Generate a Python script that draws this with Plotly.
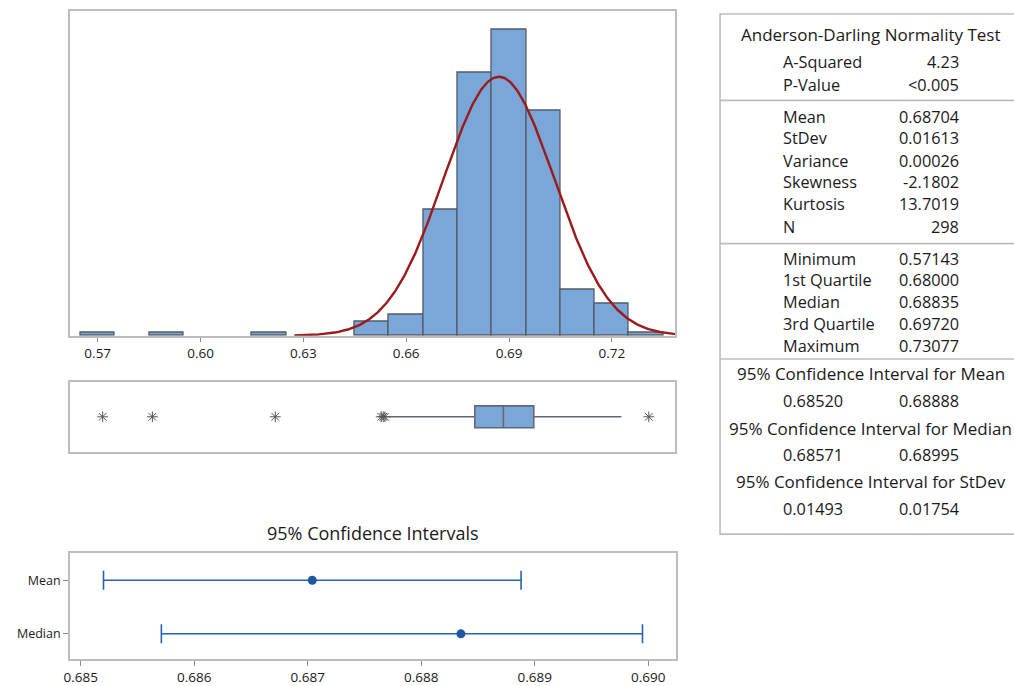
import numpy as np
import plotly.graph_objects as go

# ---------------- data ----------------
bin_centers = [0.57, 0.59, 0.62, 0.65, 0.66, 0.67, 0.68, 0.69, 0.70, 0.71, 0.72, 0.73]
bin_counts = [1, 1, 1, 4, 6, 36, 75, 87, 64, 13, 9, 1]
bin_width = 0.01

n_obs = 298
mean_val = 0.68704
stdev_val = 0.01613

q1_val = 0.68000
median_val = 0.68835
q3_val = 0.69720
whisker_low = 0.6548
whisker_high = 0.72275
outliers = [0.57143, 0.58594, 0.6218, 0.6527, 0.6533, 0.6538, 0.73077]

ci_labels = ["Median", "Mean"]
ci_centers = [0.68835, 0.68704]
ci_lower = [0.68571, 0.68520]
ci_upper = [0.68995, 0.68888]

hist_ticks = [0.57, 0.60, 0.63, 0.66, 0.69, 0.72]
ci_ticks = [0.685, 0.686, 0.687, 0.688, 0.689, 0.690]

ad_rows = [("A-Squared", "4.23"), ("P-Value", "<0.005")]
moment_rows = [("Mean", "0.68704"), ("StDev", "0.01613"), ("Variance", "0.00026"),
               ("Skewness", "-2.1802"), ("Kurtosis", "13.7019"), ("N", "298")]
quant_rows = [("Minimum", "0.57143"), ("1st Quartile", "0.68000"), ("Median", "0.68835"),
              ("3rd Quartile", "0.69720"), ("Maximum", "0.73077")]
ci_table = [("95% Confidence Interval for Mean", "0.68520", "0.68888"),
            ("95% Confidence Interval for Median", "0.68571", "0.68995"),
            ("95% Confidence Interval for StDev", "0.01493", "0.01754")]

# ---------------- styling ----------------
W, H = 1014, 686
FONT = "Open Sans"
TXT = "#1a1a1a"
FRAME = "#BDBDBD"
BAR_FILL = "#7BA6D8"
BAR_LINE = "#505B66"
CURVE = "#9C1A1A"
CI_BLUE = "#2463AE"


def px(x):
    return x / W


def py(y):
    return 1 - y / H


fig = go.Figure()

# histogram
fig.add_trace(go.Bar(x=bin_centers, y=bin_counts, width=bin_width,
                     marker=dict(color=BAR_FILL, line=dict(color=BAR_LINE, width=1.3)),
                     xaxis="x", yaxis="y", hoverinfo="skip"))

# fitted normal curve (from the mean and stdev above)
xc = np.linspace(mean_val - 3.7 * stdev_val, 0.7385, 400)
yc = n_obs * bin_width * np.exp(-0.5 * ((xc - mean_val) / stdev_val) ** 2) / (stdev_val * np.sqrt(2 * np.pi))
fig.add_trace(go.Scatter(x=xc, y=yc, mode="lines", line=dict(color=CURVE, width=2.4),
                         xaxis="x", yaxis="y", hoverinfo="skip"))

# boxplot
fig.add_trace(go.Box(q1=[q1_val], median=[median_val], q3=[q3_val],
                     lowerfence=[whisker_low], upperfence=[whisker_high],
                     y=[0], orientation="h", width=0.31, whiskerwidth=0,
                     fillcolor=BAR_FILL, line=dict(color="#5F6975", width=1.6),
                     boxpoints=False, xaxis="x2", yaxis="y2", hoverinfo="skip"))
fig.add_trace(go.Scatter(x=outliers, y=[0] * len(outliers), mode="markers",
                         marker=dict(symbol="asterisk-open", size=9, color="#555555",
                                     line=dict(color="#555555", width=1)),
                         xaxis="x2", yaxis="y2", hoverinfo="skip"))

# confidence intervals
ci_y = list(range(len(ci_labels)))
fig.add_trace(go.Scatter(
    x=ci_centers, y=ci_y, mode="markers",
    marker=dict(symbol="circle", size=9, color="#1F56A3"),
    error_x=dict(type="data", symmetric=False,
                 array=[u - c for u, c in zip(ci_upper, ci_centers)],
                 arrayminus=[c - l for c, l in zip(ci_centers, ci_lower)],
                 color=CI_BLUE, thickness=1.6, width=9.5),
    xaxis="x3", yaxis="y3", hoverinfo="skip"))

axis_common = dict(showline=True, mirror=True, linecolor=FRAME, linewidth=1.6,
                   showgrid=False, zeroline=False)

fig.update_layout(
    width=W, height=H, margin=dict(l=0, r=0, t=0, b=0),
    paper_bgcolor="white", plot_bgcolor="white", showlegend=False,
    font=dict(family=FONT, color=TXT),
    bargap=0,
    xaxis=dict(domain=[px(64), px(673.3)], range=[0.5618, 0.7385], anchor="y",
               tickvals=hist_ticks, ticktext=[f"{t:.2f}" for t in hist_ticks],
               ticks="outside", ticklen=4, tickcolor="#8A8A8A",
               tickfont=dict(size=13.5, color=TXT), **axis_common),
    yaxis=dict(domain=[py(336.7), py(10.7)], range=[0, 92.5], anchor="x",
               showticklabels=False, ticks="", **axis_common),
    xaxis2=dict(domain=[px(64), px(673.3)], range=[0.5618, 0.7385], anchor="y2",
                showticklabels=False, ticks="", **axis_common),
    yaxis2=dict(domain=[py(453.3), py(382.7)], range=[-0.5, 0.5], anchor="x2",
                showticklabels=False, ticks="", **axis_common),
    xaxis3=dict(domain=[px(64.3), px(674.3)], range=[0.684904, 0.690248], anchor="y3",
                tickvals=ci_ticks, ticktext=[f"{t:.3f}" for t in ci_ticks],
                ticks="outside", ticklen=5, tickcolor="#8A8A8A",
                tickfont=dict(size=13.5, color=TXT), **axis_common),
    yaxis3=dict(domain=[py(660.7), py(554.7)], range=[-0.466, 1.508], anchor="x3",
                tickvals=ci_y, ticktext=ci_labels,
                ticks="outside", ticklen=5, tickcolor="#8A8A8A",
                tickfont=dict(size=12.5, color=TXT), **axis_common),
)

annotations = []
annotations.append(dict(text="95% Confidence Intervals", x=px(369), y=py(535),
                        xref="paper", yref="paper", xanchor="center", yanchor="middle",
                        showarrow=False, font=dict(size=18, color=TXT, family=FONT)))

# table
shapes = [
    dict(type="rect", xref="paper", yref="paper", x0=px(718.3), x1=px(1030),
         y0=py(535.7), y1=py(14), line=dict(color=FRAME, width=1.6)),
]
for ly in [100.7, 244.3, 360]:
    shapes.append(dict(type="line", xref="paper", yref="paper", x0=px(718.3), x1=px(1030),
                       y0=py(ly), y1=py(ly), line=dict(color=FRAME, width=1.6)))

TF_ROW = dict(size=16.3, color=TXT, family=FONT)
TF_HEAD = dict(size=17, color=TXT, family=FONT)
LBL_X = 780
VAL_X = 961
CEN_X = 870


def txt(t, x, y, anchor, f=TF_ROW):
    annotations.append(dict(text=t, x=px(x), y=py(y), xref="paper", yref="paper",
                            xanchor=anchor, yanchor="middle", showarrow=False, font=f))


txt("Anderson-Darling Normality Test", CEN_X, 35, "center", TF_HEAD)
for (lab, val), y in zip(ad_rows, [62.3, 85]):
    txt(lab, LBL_X, y, "left")
    txt(val, VAL_X, y, "right")
for (lab, val), y in zip(moment_rows, [117.3, 138.8, 161.3, 182.7, 204.5, 227.3]):
    txt(lab, LBL_X, y, "left")
    txt(val, VAL_X, y, "right")
for (lab, val), y in zip(quant_rows, [259.3, 281.3, 303.3, 325.3, 347]):
    txt(lab, LBL_X, y, "left")
    txt(val, VAL_X, y, "right")
for (title, lo, hi), (yt, yv) in zip(ci_table, [(375, 402.3), (429.3, 456.7), (483.3, 510)]):
    txt(title, CEN_X, yt, "center", TF_HEAD)
    txt(lo, LBL_X, yv, "left")
    txt(hi, VAL_X, yv, "right")

fig.update_layout(annotations=annotations, shapes=shapes)

fig.write_html("out.html", config={"displayModeBar": False},
               post_script="document.body.style.margin='0px';document.body.style.overflow='hidden';")
